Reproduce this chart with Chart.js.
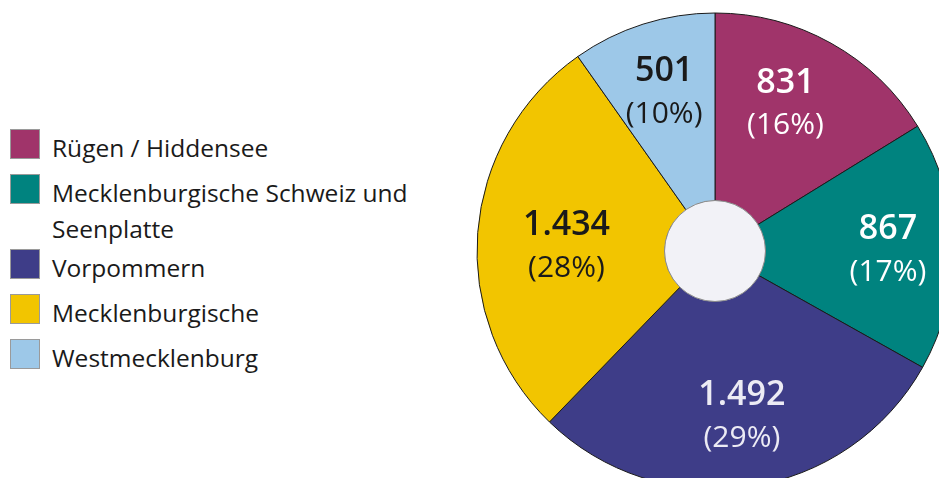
<!DOCTYPE html>
<html>
<head>
<meta charset="utf-8">
<script src="https://cdn.jsdelivr.net/npm/chart.js@4"></script>
<style>
  html, body { margin: 0; padding: 0; background: #fff; overflow: hidden; }
  body { width: 939px; height: 478px; position: relative; font-family: "Open Sans", sans-serif; }
  #legend { position: absolute; left: 10px; top: 129px; width: 420px; }
  .item { display: flex; align-items: flex-start; margin-bottom: 8px; }
  .item.wrapped { margin-bottom: 2px; }
  .box { width: 30px; height: 30px; flex: none; box-sizing: border-box; border: 1px solid #9a9a9a; }
  .txt { margin-left: 12px; font-size: 24.5px; line-height: 36px; color: #1a1a1a; margin-top: 1px; width: 370px; }
  #wrap { position: absolute; left: 475px; top: 11px; width: 480px; height: 480px; }
</style>
</head>
<body>
<div id="legend"></div>
<div id="wrap"><canvas id="pie"></canvas></div>
<script>
const regions = ['Rügen / Hiddensee', 'Mecklenburgische Schweiz und Seenplatte', 'Vorpommern', 'Mecklenburgische', 'Westmecklenburg'];
const counts = [831, 867, 1492, 1434, 501];
const colors = ['#a0346a', '#00837f', '#3e3d88', '#f2c500', '#9dc8e8'];
const textColors = ['#ffffff', '#ffffff', '#ecebf4', '#1a1a1a', '#1a1a1a'];

// little shifts so the labels sit where the original has them
const labelNudge = [[-10, -3], [8, 3], [3, 2], [16, 8], [-1, -1]];

function formatDe(n) {
    return String(n).replace(/\B(?=(\d{3})+(?!\d))/g, '.');
}

const total = counts.reduce((a, b) => a + b, 0);

const legend = document.getElementById('legend');
regions.forEach(function(name, i) {
    const row = document.createElement('div');
    row.className = 'item';
    row.innerHTML = '<div class="box" style="background:' + colors[i] + '"></div><div class="txt">' + name + '</div>';
    legend.appendChild(row);
    if (row.offsetHeight > 50) row.classList.add('wrapped');
});

const holePlugin = {
    id: 'hole',
    afterDatasetsDraw: function(chart) {
        const ctx = chart.ctx;
        const arcs = chart.getDatasetMeta(0).data;
        const a0 = arcs[0];
        ctx.save();
        ctx.beginPath();
        ctx.arc(a0.x, a0.y, a0.innerRadius + 0.5, 0, Math.PI * 2);
        ctx.fillStyle = '#f2f2f7';
        ctx.fill();
        ctx.lineWidth = 1;
        ctx.strokeStyle = '#8a8a8a';
        ctx.stroke();

        ctx.textAlign = 'center';
        ctx.textBaseline = 'middle';
        arcs.forEach(function(arc, i) {
            const mid = (arc.startAngle + arc.endAngle) / 2;
            const r = 165;
            const x = arc.x + Math.cos(mid) * r + labelNudge[i][0];
            const y = arc.y + Math.sin(mid) * r + labelNudge[i][1];
            ctx.fillStyle = textColors[i];
            ctx.font = '600 34px "Open Sans"';
            ctx.fillText(formatDe(counts[i]), x, y - 21);
            ctx.font = '400 30px "Open Sans"';
            ctx.fillText('(' + Math.round(counts[i] / total * 100) + '%)', x, y + 22);
        });
        ctx.restore();
    }
};

new Chart(document.getElementById('pie'), {
    type: 'doughnut',
    data: {
        labels: regions,
        datasets: [{
            data: counts,
            backgroundColor: colors,
            borderColor: '#1a1a1a',
            borderWidth: 1
        }]
    },
    options: {
        responsive: true,
        maintainAspectRatio: false,
        animation: false,
        radius: 238,
        cutout: '21%',
        plugins: {
            legend: { display: false },
            tooltip: { enabled: false }
        }
    },
    plugins: [holePlugin]
});
</script>
</body>
</html>
